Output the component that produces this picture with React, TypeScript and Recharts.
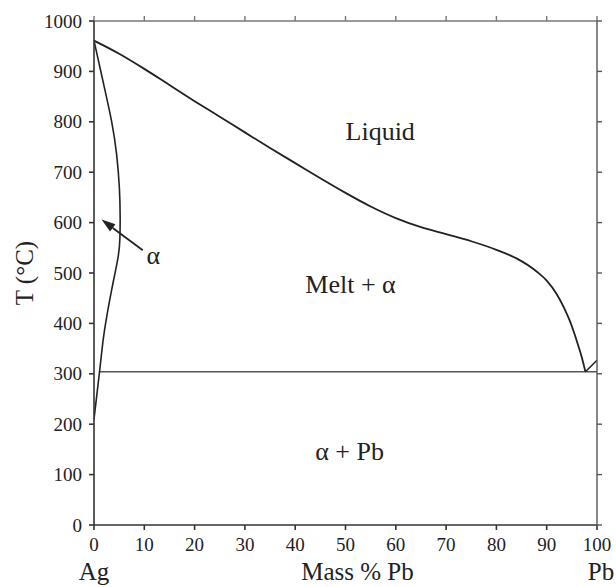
import { LineChart, Line, XAxis, YAxis, ReferenceLine, ReferenceDot, Label } from 'recharts';

const FONT = '"Liberation Serif", "Times New Roman", Times, serif';
const INK = '#222';

// axis ticks
const massTicks = [0, 10, 20, 30, 40, 50, 60, 70, 80, 90, 100];
const tempTicks = [0, 100, 200, 300, 400, 500, 600, 700, 800, 900, 1000];

// liquidus (mass % Pb, T in °C)
const liquidusPb = [0, 5, 10, 15, 20, 25, 30, 35, 40, 45, 50, 55, 60, 65, 70, 75, 80, 84, 88, 90, 92, 93.5, 94.6, 95.5, 96.3, 97, 97.7];
const liquidusT = [961, 935, 905, 873, 841, 810, 779, 748, 718, 688, 659, 632, 609, 591, 577, 563, 546, 529, 503, 485, 458, 430, 405, 380, 355, 332, 304];

// alpha solidus + solvus on the Ag side
const alphaPb = [0, 1.8, 3.5, 4.5, 5.05, 5.2, 5.15, 4.8, 3.5, 2.1, 1.5, 1.1, 0];
const alphaT = [961, 880, 801, 735, 668, 610, 570, 532, 466, 387, 340, 304, 210];

// eutectic isotherm
const eutecticPb = [1.1, 100];
const eutecticT = [304, 304];

// Pb-side liquidus
const pbLiqPb = [97.7, 100];
const pbLiqT = [304, 327];

const rows = (pb: number[], t: number[]) => pb.map((x, i) => ({ x, T: t[i] }));

const liquidus = rows(liquidusPb, liquidusT);
const alpha = rows(alphaPb, alphaT);
const eutectic = rows(eutecticPb, eutecticT);
const pbLiquidus = rows(pbLiqPb, pbLiqT);

const regionStyle = { fontSize: 26, fill: INK, fontFamily: FONT };

function BottomTick(props: any) {
  const { x, y, payload } = props;
  return (
    <text x={x} y={y + 14} textAnchor="middle" fontSize={19} fill={INK} fontFamily={FONT}>
      {payload.value}
    </text>
  );
}

function LeftTick(props: any) {
  const { x, y, payload } = props;
  return (
    <text x={x} y={y + 6.5} textAnchor="end" fontSize={19} fill={INK} fontFamily={FONT}>
      {payload.value}
    </text>
  );
}

function Arrow(props: any) {
  const { x1, y1, x2, y2 } = props;
  const a = Math.atan2(y2 - y1, x2 - x1);
  const len = 14;
  const half = 4.5;
  const bx = x2 - len * Math.cos(a);
  const by = y2 - len * Math.sin(a);
  const px = -Math.sin(a) * half;
  const py = Math.cos(a) * half;
  return (
    <g>
      <line x1={x1} y1={y1} x2={bx} y2={by} stroke={INK} strokeWidth={1.8} />
      <polygon points={`${x2},${y2} ${bx + px},${by + py} ${bx - px},${by - py}`} fill={INK} />
    </g>
  );
}

function XTitles(props: any) {
  const { x, y, width } = props.viewBox;
  const base = y + 55;
  return (
    <g fontSize={25} fill={INK} fontFamily={FONT}>
      <text x={x} y={base} textAnchor="middle" fontFamily={FONT}>Ag</text>
      <text x={x + width / 2 + 12} y={base} textAnchor="middle" fontFamily={FONT}>Mass % Pb</text>
      <text x={x + width + 4} y={base} textAnchor="middle" fontFamily={FONT}>Pb</text>
    </g>
  );
}

function YTitle(props: any) {
  const { x, y, height } = props.viewBox;
  const cx = x + 24;
  const cy = y + height / 2;
  return (
    <text x={cx} y={cy} transform={`rotate(-90 ${cx} ${cy})`} textAnchor="middle" dominantBaseline="central"
      fontSize={25} fill={INK} fontFamily={FONT}>T (°C)</text>
  );
}

export default function App() {
  return (
    <div style={{ position: 'absolute', left: 0, top: 0, width: 616, height: 587, background: '#fff', fontFamily: FONT }}>
      <LineChart width={616} height={587} margin={{ top: 0, right: 0, bottom: 0, left: 0 }} style={{ fontFamily: FONT }}>
        <XAxis xAxisId="b" dataKey="x" type="number" domain={[0, 100]} ticks={massTicks} allowDataOverflow
          height={62} tickSize={5} tickMargin={7} tick={<BottomTick />} stroke="#333" strokeWidth={1.6} interval={0}
          fontFamily={FONT}>
          <Label content={XTitles} />
        </XAxis>
        <XAxis xAxisId="t" orientation="top" dataKey="x" type="number" domain={[0, 100]} ticks={massTicks} allowDataOverflow
          height={21} tickSize={5} tickFormatter={() => ''} stroke="#777" strokeWidth={1.4} interval={0} />
        <YAxis yAxisId="l" dataKey="T" type="number" domain={[0, 1000]} ticks={tempTicks} allowDataOverflow
          width={94} tickSize={5} tickMargin={7} tick={<LeftTick />} stroke="#333" strokeWidth={1.6} interval={0}
          fontFamily={FONT}>
          <Label content={YTitle} />
        </YAxis>
        <YAxis yAxisId="r" orientation="right" dataKey="T" type="number" domain={[0, 1000]} ticks={tempTicks} allowDataOverflow
          width={19} tickSize={5} tickFormatter={() => ''} stroke="#555" strokeWidth={1.4} interval={0} />

        <Line xAxisId="b" yAxisId="l" data={eutectic} dataKey="T" type="linear" stroke="#555" strokeWidth={1.5}
          dot={false} activeDot={false} isAnimationActive={false} />
        <Line xAxisId="b" yAxisId="l" data={pbLiquidus} dataKey="T" type="linear" stroke={INK} strokeWidth={1.6}
          dot={false} activeDot={false} isAnimationActive={false} />
        <Line xAxisId="b" yAxisId="l" data={liquidus} dataKey="T" type="monotoneX" stroke={INK} strokeWidth={1.8}
          dot={false} activeDot={false} isAnimationActive={false} />
        <Line xAxisId="b" yAxisId="l" data={alpha} dataKey="T" type="natural" stroke={INK} strokeWidth={1.6}
          dot={false} activeDot={false} isAnimationActive={false} />

        <ReferenceLine xAxisId="b" yAxisId="l" segment={[{ x: 9.7, y: 545 }, { x: 1.5, y: 606 }]} shape={Arrow} />

        <ReferenceDot xAxisId="b" yAxisId="l" x={56.9} y={782} r={1} fill="none" stroke="none"
          label={{ value: 'Liquid', position: 'center', ...regionStyle }} />
        <ReferenceDot xAxisId="b" yAxisId="l" x={51} y={478} r={1} fill="none" stroke="none"
          label={{ value: 'Melt + α', position: 'center', ...regionStyle }} />
        <ReferenceDot xAxisId="b" yAxisId="l" x={50.8} y={148} r={1} fill="none" stroke="none"
          label={{ value: 'α + Pb', position: 'center', ...regionStyle }} />
        <ReferenceDot xAxisId="b" yAxisId="l" x={11.8} y={537} r={1} fill="none" stroke="none"
          label={{ value: 'α', position: 'center', ...regionStyle }} />
      </LineChart>
    </div>
  );
}
